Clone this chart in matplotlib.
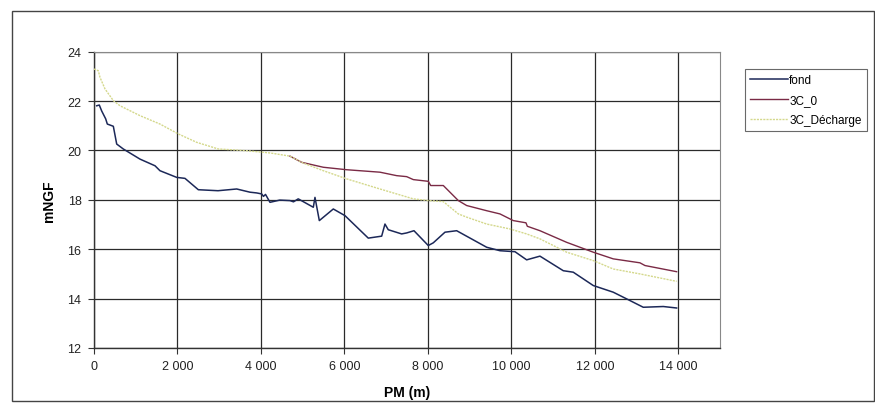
import matplotlib
matplotlib.use("Agg")
import matplotlib.pyplot as plt
from matplotlib.patches import Rectangle
from matplotlib.ticker import FuncFormatter

plt.rcParams['font.family'] = ['Liberation Sans', 'DejaVu Sans']

# fond (bed level)
fond_x = [65, 127, 184, 280, 319, 463, 544, 702, 1102, 1462, 1581, 1981, 2180, 2500,
          2971, 3419, 3738, 3898, 4018, 4060, 4110, 4217, 4450, 4696, 4780, 4894,
          5255, 5295, 5399, 5734, 6014, 6572, 6893, 6972, 7051, 7372, 7492, 7667,
          8010, 8130, 8410, 8690, 9409, 9728, 10087, 10367, 10686, 11245, 11484,
          11963, 12442, 12762, 13161, 13641, 13961]
fond_y = [21.81, 21.84, 21.60, 21.28, 21.07, 20.98, 20.26, 20.06, 19.65, 19.38, 19.18,
          18.91, 18.87, 18.41, 18.37, 18.44, 18.31, 18.28, 18.24, 18.14, 18.22, 17.90,
          17.99, 17.97, 17.92, 18.04, 17.70, 18.10, 17.16, 17.63, 17.36, 16.45, 16.53,
          17.02, 16.79, 16.62, 16.66, 16.75, 16.15, 16.26, 16.69, 16.75, 16.08, 15.94,
          15.90, 15.57, 15.72, 15.13, 15.07, 14.53, 14.26, 13.99, 13.65, 13.68, 13.62]

# 3C_0 (visible part; upstream it lies under 3C_Décharge)
c0_x = [4696, 4976, 5495, 6054, 6853, 7252, 7492, 7651, 8011, 8067, 8370, 8730, 8929,
        9409, 9728, 10047, 10351, 10383, 10686, 11325, 11963, 12442, 13082, 13202, 13961]
c0_y = [19.77, 19.52, 19.32, 19.22, 19.12, 18.98, 18.94, 18.82, 18.75, 18.58, 18.58,
        17.97, 17.77, 17.56, 17.43, 17.16, 17.07, 16.93, 16.75, 16.28, 15.88, 15.61,
        15.45, 15.34, 15.09]

# 3C_Décharge
dch_x = [0, 103, 144, 264, 463, 623, 1102, 1581, 2020, 2460, 2979, 3659, 4217, 4696,
         5015, 5495, 6054, 6853, 7252, 7651, 8011, 8370, 8730, 8929, 9409, 9968,
         10367, 10686, 11325, 11963, 12442, 13082, 13961]
dch_y = [23.30, 23.23, 22.96, 22.49, 22.02, 21.81, 21.41, 21.07, 20.67, 20.33, 20.06,
         19.99, 19.90, 19.77, 19.49, 19.18, 18.85, 18.44, 18.24, 18.04, 17.97, 17.93,
         17.43, 17.30, 17.02, 16.82, 16.62, 16.42, 15.88, 15.54, 15.20, 15.00, 14.70]

x_ticks = [0, 2000, 4000, 6000, 8000, 10000, 12000, 14000]
y_ticks = [12, 14, 16, 18, 20, 22, 24]

fig = plt.figure(figsize=(8.75, 4.06), dpi=100)
ax = fig.add_axes([94/875, 1 - 349/406, (720 - 94)/875, (349 - 52.7)/406])

ax.plot(fond_x, fond_y, color='#1c2858', lw=1.1, label='fond', zorder=3)
ax.plot(c0_x, c0_y, color='#7a2a45', lw=1.0, label='3C_0', zorder=4)
ax.plot(dch_x, dch_y, color='#d4d88c', lw=1.0, ls=(0, (1.5, 0.8)), label='3C_Décharge', zorder=5)

ax.set_xlim(0, 15000)
ax.set_ylim(12, 24)
ax.set_xticks(x_ticks)
ax.set_yticks(y_ticks)
ax.xaxis.set_major_formatter(FuncFormatter(lambda v, p: f"{int(v):,}".replace(',', ' ')))
ax.grid(True, color='#2a2a2a', lw=0.9)
ax.set_axisbelow(True)
for s in ['top', 'right']:
    ax.spines[s].set_color('#888888')
    ax.spines[s].set_linewidth(0.8)
for s in ['left', 'bottom']:
    ax.spines[s].set_color('#333333')
    ax.spines[s].set_linewidth(1.0)
ax.tick_params(axis='both', direction='out', length=4, width=0.8, labelsize=9,
               color='#333333', labelcolor='#222222', pad=5)
ax.set_xlabel('PM (m)', fontsize=10, fontweight='bold', labelpad=9)
ax.set_ylabel('mNGF', fontsize=10, fontweight='bold', labelpad=8)

leg = fig.legend(loc='upper left', bbox_to_anchor=(745/875, 1 - 70/406), fontsize=8.5,
                 frameon=True, fancybox=False, edgecolor='#444444', handlelength=3.2,
                 handletextpad=0.1, labelspacing=0.65, borderpad=0.45, borderaxespad=0)
leg.get_frame().set_linewidth(0.8)

fig.patches.append(Rectangle((12/875, 1 - 402/406), (874 - 12)/875, (402 - 12)/406,
                             transform=fig.transFigure, fill=False, edgecolor='#444444',
                             lw=1.0))

fig.savefig('out.png', dpi=100)
